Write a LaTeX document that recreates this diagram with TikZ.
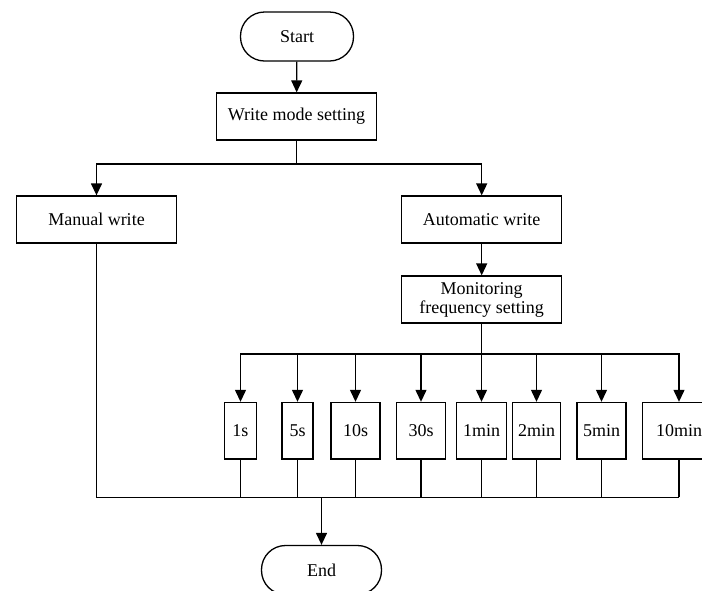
\documentclass[tikz,border=0pt]{standalone}
\usepackage{fontspec}
\setmainfont{Liberation Serif}
\usetikzlibrary{positioning,calc,arrows.meta}

\begin{document}
\begin{tikzpicture}[x=1pt, y=-1pt,
    procbox/.style={rectangle, draw, line width=1.3pt, minimum width=160pt, minimum height=47pt, inner sep=2pt, align=center, font=\fontsize{18}{19}\selectfont},
    termbox/.style={rectangle, draw, line width=1.3pt, rounded corners=24pt, minimum height=49pt, font=\fontsize{18}{19}\selectfont},
    ratebox/.style={rectangle, draw, line width=1.3pt, minimum height=56.5pt, inner sep=0pt, font=\fontsize{18}{19}\selectfont},
    flowline/.style={line width=1.3pt},
    flowarrow/.style={line width=1.3pt, -{Triangle[length=12pt,width=11pt]}}]
    \useasboundingbox (0,0) rectangle (702,590);
    % top part
    \node (start) [termbox, minimum width=113pt] at (297,36.5) {Start};
    \node (mode) [procbox] at (296.5,116.5) {Write mode setting};
    \node (manual) [procbox] at (96.5,219.5) {Manual write};
    \node (auto) [procbox] at (481.7,219.5) {Automatic write};
    \node (monitor) [procbox] at (481.7,299.5) {Monitoring\\frequency setting};
    \node (end) [termbox, minimum width=120pt] at (321.5,570) {End};
    \coordinate (split) at (296.5,164);
    \coordinate (fan) at (481.7,354);
    \coordinate (join) at (321.5,497.3);
    % interval boxes
    \foreach \name/\txt/\xx/\ww in {r1/1s/240.5/32.5, r2/5s/297.5/31, r3/10s/355.5/49, r4/30s/421/48.5,
        r5/1min/481.5/49.5, r6/2min/536.5/48.5, r7/5min/601.5/49, r8/10min/679/72.5}
        \node (\name) [ratebox, minimum width=\ww pt] at (\xx,430.7) {\txt};
    % connectors
    \draw [flowarrow] (start) -- (mode);
    \draw [flowline] (mode) -- (split);
    \draw [flowarrow] (split) -| (manual);
    \draw [flowarrow] (split) -| (auto);
    \draw [flowarrow] (auto) -- (monitor);
    \draw [flowline] (monitor) -- (fan);
    \foreach \name in {r1,r2,r3,r4,r5,r6,r7,r8}
        \draw [flowarrow] (fan) -| (\name);
    \draw [flowline] (manual) |- (r8 |- join);
    \foreach \name in {r1,r2,r3,r4,r5,r6,r7,r8}
        \draw [flowline] (\name) -- (\name |- join);
    \draw [flowarrow] (join) -- (end);
\end{tikzpicture}
\end{document}
